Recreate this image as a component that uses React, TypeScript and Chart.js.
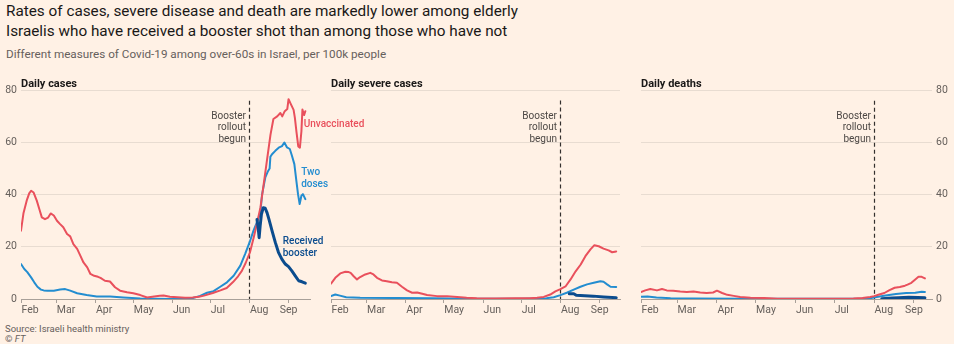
import React, { useEffect, useRef } from 'react';
import { Chart, registerables } from 'chart.js';

Chart.register(...registerables);

// Day 0 = 1 February 2021
const monthLabels = ['Feb', 'Mar', 'Apr', 'May', 'Jun', 'Jul', 'Aug', 'Sep'];
const monthStartDays = [0, 28, 59, 89, 120, 150, 181, 212];
const yTicks = [0, 20, 40, 60, 80];
const boosterRolloutDay = 181;

type P = [number, number][];

// Daily cases per 100k, over-60s
const casesUnvaccinated: P = [
  [0, 26.2], [2, 33], [4.5, 37.7], [6.5, 40.5], [8, 41.5], [10, 40.8], [12.5, 37.7], [14.5, 34.5], [16.5, 31.3],
  [19, 30.6], [21.5, 31.2], [23.5, 32.8], [26, 32], [28.5, 30], [31, 28.7], [33.5, 27.5], [36.5, 24.9], [39, 24],
  [41.5, 21], [44.5, 19.2], [47, 16.6], [49.5, 14], [52.5, 12.1], [55, 9.6], [58, 8.9], [61, 8.5], [63, 8.1],
  [66.5, 7], [70.5, 6.7], [74.5, 4.5], [78.5, 3.2], [84, 2.6], [89, 2.2], [94.5, 1.5], [100, 0.6], [105.5, 1.0],
  [110, 1.2], [113, 1.3], [118, 0.9], [124, 0.7], [130, 0.5], [136, 0.6], [141, 0.9], [145, 1.3], [152, 2.3],
  [158, 3.3], [163, 4.2], [168, 6.5], [172, 8.7], [175, 10.8], [178, 13.8], [181.5, 18], [184.5, 23.8], [187, 29],
  [189.7, 35], [192.3, 44], [195, 53.5], [197.7, 63], [200, 69], [203, 70], [205.5, 71.3], [207, 70], [209, 72],
  [211, 72.8], [212, 76.6], [214, 74.5], [216, 72.5], [217, 69.5], [218.3, 64], [219.7, 58.5], [221, 58],
  [222.2, 64.3], [223, 72.6], [224.3, 70.5], [225.3, 72],
];
const casesTwoDoses: P = [
  [0, 13.4], [2.6, 11.5], [5, 10.3], [8, 8.3], [10.5, 6.4], [13, 4.7], [15.8, 3.6], [18, 3.3], [21, 3.2], [26, 3.2],
  [31, 3.6], [35, 3.8], [39, 3.2], [44.5, 2.2], [52, 1.5], [60, 1.0], [70.7, 1.0], [81, 0.6], [94.5, 0.2], [105, 0.1],
  [120, 0], [135, 0.2], [142, 1.2], [147.4, 2.4], [152.6, 3], [157.9, 4.7], [163.2, 6.4], [168.5, 8.9], [173.8, 12.8],
  [177.7, 17.4], [181.7, 22.5], [184.3, 26.3], [187, 29.5], [188.3, 31.3], [189.6, 32.6], [191, 40], [193.6, 46.6],
  [195.7, 49], [197, 50], [197.6, 54.5], [198.9, 55.5], [201.5, 56.8], [204.2, 58], [206.8, 58.6], [208.7, 60],
  [210.8, 58.1], [213, 57.5], [214.7, 54.9], [216.6, 51.7], [218.2, 45.3], [219.5, 40.2], [220.8, 36.4],
  [222.2, 39.6], [223.4, 40.2], [225.3, 38.3],
];
const casesBooster: P = [
  [187, 30.5], [188, 27], [188.7, 23.5], [189.5, 28], [190.5, 32.5], [192, 35], [193.5, 34.8], [195, 33],
  [196.5, 30.5], [199, 26], [201.5, 21.7], [204, 17.9], [206.7, 15.3], [209.4, 13.4], [212, 12.4], [214.6, 10.8],
  [217.3, 8.9], [220, 7], [222.7, 6.6], [225.3, 6.1],
];

// Daily severe cases per 100k
const severeUnvaccinated: P = [
  [0, 5.9], [3.4, 8.1], [7.3, 9.8], [11.3, 10.4], [14, 10.3], [15.5, 10], [17.9, 8.7], [20.5, 7.5], [23, 8.4],
  [27, 9.4], [31, 10], [33.5, 9.4], [36.3, 8.1], [40.2, 7.1], [44, 6.8], [48, 6.4], [52, 6.2], [56, 4.7], [60, 3.3],
  [64, 2.4], [68, 2.5], [72, 2], [75.8, 1.5], [83.7, 1.1], [91.6, 1.1], [99.5, 0.8], [107, 0.5], [115, 0.3],
  [130, 0.2], [145, 0.3], [157, 0.3], [162.6, 0.5], [167.8, 0.8], [173, 1.7], [177, 2.9], [181, 3.8], [185, 4.8],
  [189, 7.5], [193, 10.6], [197, 13.2], [200.7, 16.4], [204.7, 19], [207.8, 20.6], [211.2, 20.2], [215, 19.3],
  [219, 18.6], [221.8, 17.9], [225, 18.2],
];
const severeTwoDoses: P = [
  [0, 1.1], [3.4, 1.7], [7, 1.3], [12, 0.7], [23, 0.5], [50, 0.4], [80, 0.3], [110, 0.1], [150, 0.1], [170, 0.3],
  [175.7, 0.7], [181, 1.5], [186, 2.4], [191.5, 3.6], [196.8, 4.7], [202, 5.6], [207.3, 6.2], [212.5, 6.8],
  [215, 6.6], [217.8, 5.6], [220.5, 4.7], [225, 4.6],
];
const severeBooster: P = [
  [188, 2.0], [191.5, 2.0], [193.5, 1.4], [196.8, 1.3], [207, 1.1], [215, 0.8], [225, 0.5],
];

// Daily deaths per 100k
const deathsUnvaccinated: P = [
  [0, 2.7], [3.3, 3.3], [7.2, 3.8], [12.4, 3.3], [16.3, 3.8], [20, 3.3], [25, 3.2], [30.5, 2.9], [35.6, 2.7],
  [40.8, 2.9], [46, 2.5], [51, 2.3], [56, 2.5], [59, 3.2], [63, 2.3], [67, 1.6], [72, 1.2], [77, 0.8], [85, 0.5],
  [95.5, 0.4], [106, 0.1], [130, 0.1], [150, 0.1], [165, 0.2], [172, 0.4], [178, 0.8], [181, 1.1], [185, 1.7],
  [189, 2.3], [193, 3.4], [197, 4.3], [201, 4.6], [205, 5.1], [207, 5.5], [210, 6.2], [213, 7.5], [215.5, 8.5],
  [218, 8.5], [220.5, 7.9],
];
const deathsTwoDoses: P = [
  [0, 0.9], [5, 1.0], [12, 0.6], [23, 0.3], [40, 0.2], [80, 0.1], [120, 0.1], [170, 0.1], [178, 0.3], [183, 0.8],
  [190, 1.3], [198, 1.9], [206, 2.3], [213, 2.4], [218, 2.8], [220.5, 2.7],
];
const deathsBooster: P = [
  [187, 0.1], [195, 0.4], [200, 0.5], [208, 0.7], [215, 0.6], [220.5, 0.5],
];

const RED = '#e9505c';
const BLUE = '#238dd0';
const DARK = '#0b4c8e';
const GRID = '#e8dcd1';
const AXIS = '#a8a099';
const TICK = '#66605c';
const FONT = 'Roboto, sans-serif';

Chart.defaults.font.family = FONT;

const decor = {
  id: 'decor',
  beforeDatasetsDraw(chart: any, _a: any, opts: any) {
    const { ctx, chartArea, scales } = chart;
    const x = scales.x, y = scales.y;
    const px = Math.round(x.getPixelForValue(opts.boosterDay)) + 0.5;
    ctx.save();
    ctx.strokeStyle = '#33302e';
    ctx.lineWidth = 1.2;
    ctx.setLineDash([4, 3]);
    ctx.beginPath();
    ctx.moveTo(px, y.getPixelForValue(opts.dashTop));
    ctx.lineTo(px, chartArea.bottom);
    ctx.stroke();
    ctx.restore();
  },
  afterDraw(chart: any, _a: any, opts: any) {
    const { ctx, chartArea, scales } = chart;
    const x = scales.x, y = scales.y;
    ctx.save();
    // booster annotation
    const px = Math.round(x.getPixelForValue(opts.boosterDay));
    ctx.font = `400 10px ${FONT}`;
    ctx.fillStyle = '#4d4845';
    ctx.textAlign = 'right';
    ctx.textBaseline = 'middle';
    const ay = y.getPixelForValue(opts.noteValue);
    ['Booster', 'rollout', 'begun'].forEach((t, i) => ctx.fillText(t, px - 3, ay + i * 11.5));
    // month labels
    ctx.font = `400 10.5px ${FONT}`;
    ctx.fillStyle = TICK;
    ctx.textBaseline = 'alphabetic';
    monthStartDays.forEach((d, i) => {
      const last = i === monthStartDays.length - 1;
      ctx.textAlign = last ? 'center' : 'left';
      ctx.fillText(monthLabels[i], x.getPixelForValue(d) + (last ? 0 : 0.5), chartArea.bottom + 13.5);
    });
    // series labels
    ctx.font = `500 10px ${FONT}`;
    ctx.textAlign = 'left';
    ctx.textBaseline = 'middle';
    (opts.labels || []).forEach((l: any) => {
      ctx.fillStyle = l.color;
      const lx = x.getPixelForValue(l.day);
      const ly = y.getPixelForValue(l.value);
      l.lines.forEach((t: string, i: number) => ctx.fillText(t, lx, ly + i * 11.5));
    });
    ctx.restore();
  },
};

type PanelCfg = {
  left: number; top: number; w: number; h: number;
  xMax: number;
  yPos: 'left' | 'right';
  yLabels: boolean;
  yWidth: number;
  pad: { left: number; right: number; top: number; bottom: number };
  unvax: P; two: P; boost: P;
  labels: { lines: string[]; color: string; day: number; value: number }[];
};

function Panel({ cfg }: { cfg: PanelCfg }) {
  const ref = useRef<HTMLCanvasElement>(null);
  useEffect(() => {
    const chart = new Chart(ref.current as HTMLCanvasElement, {
      type: 'line',
      data: {
        datasets: [
          { data: cfg.boost as any, borderColor: DARK, borderWidth: 3, order: 0 },
          { data: cfg.unvax as any, borderColor: RED, borderWidth: 2, order: 1 },
          { data: cfg.two as any, borderColor: BLUE, borderWidth: 2, order: 2 },
        ].map((d) => ({ ...d, pointRadius: 0, tension: 0, fill: false, borderJoinStyle: 'round' as const, borderCapStyle: 'round' as const })),
      },
      options: {
        animation: false,
        responsive: false,
        maintainAspectRatio: false,
        devicePixelRatio: 1,
        layout: { padding: cfg.pad },
        plugins: {
          legend: { display: false },
          tooltip: { enabled: false },
          decor: { boosterDay: boosterRolloutDay, dashTop: 76, noteValue: 70, labels: cfg.labels },
        } as any,
        scales: {
          x: {
            type: 'linear',
            min: 0,
            max: cfg.xMax,
            afterBuildTicks: (axis: any) => { axis.ticks = monthStartDays.map((v) => ({ value: v })); },
            ticks: { display: false },
            grid: { drawOnChartArea: false, drawTicks: true, tickLength: 4, color: AXIS, lineWidth: 1 },
            border: { display: true, color: AXIS, width: 1 },
            afterFit: (axis: any) => { axis.height = 21; },
          },
          y: {
            type: 'linear',
            position: cfg.yPos,
            min: 0,
            max: 80,
            afterBuildTicks: (axis: any) => { axis.ticks = yTicks.map((v) => ({ value: v })); },
            ticks: { display: cfg.yLabels, padding: 4, color: TICK, font: { size: 10.5, family: FONT } },
            grid: { color: GRID, drawTicks: false, lineWidth: 1 },
            border: { display: false },
            afterFit: (axis: any) => { axis.width = cfg.yWidth; },
          },
        },
      },
      plugins: [decor],
    } as any);
    return () => chart.destroy();
  }, []);
  return (
    <canvas
      ref={ref}
      width={cfg.w}
      height={cfg.h}
      style={{ position: 'absolute', left: cfg.left, top: cfg.top, width: cfg.w, height: cfg.h }}
    />
  );
}

const panels: PanelCfg[] = [
  {
    left: 0, top: 80, w: 370, h: 240, xMax: 229, yPos: 'left', yLabels: true, yWidth: 21,
    pad: { left: 0, right: 60, top: 10, bottom: 0 },
    unvax: casesUnvaccinated, two: casesTwoDoses, boost: casesBooster,
    labels: [
      { lines: ['Unvaccinated'], color: RED, day: 224, value: 67 },
      { lines: ['Two', 'doses'], color: BLUE, day: 222, value: 48.3 },
      { lines: ['Received', 'booster'], color: DARK, day: 207.4, value: 21.9 },
    ],
  },
  {
    left: 310, top: 80, w: 330, h: 240, xMax: 228, yPos: 'left', yLabels: false, yWidth: 21,
    pad: { left: 0, right: 20, top: 10, bottom: 0 },
    unvax: severeUnvaccinated, two: severeTwoDoses, boost: severeBooster,
    labels: [],
  },
  {
    left: 620, top: 80, w: 334, h: 240, xMax: 226, yPos: 'right', yLabels: true, yWidth: 22,
    pad: { left: 21, right: 0, top: 10, bottom: 0 },
    unvax: deathsUnvaccinated, two: deathsTwoDoses, boost: deathsBooster,
    labels: [],
  },
];

const panelTitles = ['Daily cases', 'Daily severe cases', 'Daily deaths'];
const panelTitleX = [21, 331, 641];

export default function App() {
  useEffect(() => {
    document.body.style.margin = '0';
    document.body.style.background = '#fff1e5';
  }, []);
  return (
    <div
      style={{
        position: 'fixed', left: 0, top: 0, width: 954, height: 344, overflow: 'hidden',
        background: '#fff1e5', fontFamily: FONT,
      }}
    >
      <div style={{ position: 'absolute', left: 6, top: 2, fontSize: 15.3, lineHeight: '19.5px', color: '#1a1817', whiteSpace: 'nowrap' }}>
        Rates of cases, severe disease and death are markedly lower among elderly
        <br />
        Israelis who have received a booster shot than among those who have not
      </div>
      <div style={{ position: 'absolute', left: 6, top: 47, fontSize: 11.7, lineHeight: '14px', color: '#66605c', whiteSpace: 'nowrap' }}>
        Different measures of Covid-19 among over-60s in Israel, per 100k people
      </div>
      {panels.map((p, i) => (
        <Panel key={i} cfg={p} />
      ))}
      {panelTitles.map((t, i) => (
        <div
          key={t}
          style={{ position: 'absolute', left: panelTitleX[i], top: 77, fontSize: 11, lineHeight: '13px', fontWeight: 700, color: '#1a1817', whiteSpace: 'nowrap' }}
        >
          {t}
        </div>
      ))}
      <div style={{ position: 'absolute', left: 5, top: 323, fontSize: 9.5, lineHeight: '11px', color: '#66605c', whiteSpace: 'nowrap' }}>
        Source: Israeli health ministry
      </div>
      <div style={{ position: 'absolute', left: 5, top: 333, fontSize: 9.5, lineHeight: '11px', color: '#66605c', whiteSpace: 'nowrap' }}>
        © <i>FT</i>
      </div>
    </div>
  );
}
